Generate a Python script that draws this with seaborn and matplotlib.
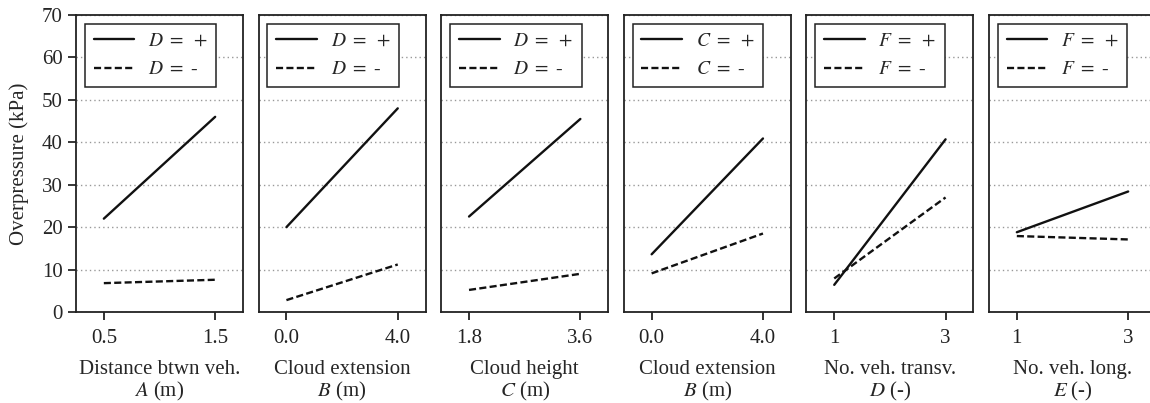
import matplotlib
matplotlib.use("Agg")
import matplotlib.pyplot as plt
import seaborn as sns
import pandas as pd

# Factor levels (x positions) for each panel
x_A = [0.5, 1.5]
x_B = [0.0, 4.0]
x_C = [1.8, 3.6]
x_D = [1, 3]
x_E = [1, 3]

# Mean overpressure (kPa) at the two levels of the interacting factor
A_Dplus = [22.0, 46.0]
A_Dminus = [6.8, 7.6]
B_Dplus = [20.0, 48.0]
B_Dminus = [2.8, 11.2]
C_Dplus = [22.5, 45.5]
C_Dminus = [5.2, 9.0]
B_Cplus = [13.6, 40.9]
B_Cminus = [9.1, 18.5]
D_Fplus = [6.4, 40.7]
D_Fminus = [7.9, 27.0]
E_Fplus = [18.8, 28.4]
E_Fminus = [17.9, 17.1]

tick_labels = [["0.5", "1.5"], ["0.0", "4.0"], ["1.8", "3.6"],
               ["0.0", "4.0"], ["1", "3"], ["1", "3"]]
xlabels = ["Distance btwn veh.\n$A$ (m)", "Cloud extension\n$B$ (m)",
           "Cloud height\n$C$ (m)", "Cloud extension\n$B$ (m)",
           "No. veh. transv.\n$D$ (-)", "No. veh. long.\n$E$ (-)"]
interacting = ["D", "D", "D", "C", "F", "F"]

panels = [
    (x_A, A_Dplus, A_Dminus),
    (x_B, B_Dplus, B_Dminus),
    (x_C, C_Dplus, C_Dminus),
    (x_B, B_Cplus, B_Cminus),
    (x_D, D_Fplus, D_Fminus),
    (x_E, E_Fplus, E_Fminus),
]

sns.set_style("ticks")
plt.rcParams["font.family"] = ["Liberation Serif", "DejaVu Serif"]
plt.rcParams["mathtext.fontset"] = "stix"
plt.rcParams["font.size"] = 15
plt.rcParams["axes.linewidth"] = 1.3
plt.rcParams["xtick.major.width"] = 1.3
plt.rcParams["ytick.major.width"] = 1.3
plt.rcParams["xtick.major.size"] = 6
plt.rcParams["ytick.major.size"] = 6
plt.rcParams["xtick.major.pad"] = 6
plt.rcParams["xtick.color"] = "#222222"
plt.rcParams["axes.edgecolor"] = "#222222"

W, H = 1150, 403
fig = plt.figure(figsize=(W / 100, H / 100), dpi=100)

left0, step, width = 76, 182.6, 167
top_px, bot_px = 15, 312

axes = []
for i, (xs, yp, ym) in enumerate(panels):
    l = (left0 + i * step) / W
    ax = fig.add_axes([l, (H - bot_px) / H, width / W, (bot_px - top_px) / H])
    axes.append(ax)
    f = interacting[i]
    lab_p = rf"${f}\ =\ +$"
    lab_m = rf"${f}\ =$ -"
    df = pd.DataFrame({
        "x": list(xs) + list(xs),
        "y": list(yp) + list(ym),
        "level": [lab_p] * 2 + [lab_m] * 2,
    })
    sns.lineplot(data=df, x="x", y="y", style="level",
                 dashes={lab_p: "", lab_m: (3, 1.4)},
                 color="#111111", linewidth=1.7, ax=ax)

    d = xs[1] - xs[0]
    ax.set_xlim(xs[0] - 0.25 * d, xs[1] + 0.25 * d)
    ax.set_ylim(0, 70)
    ax.set_xticks(xs)
    ax.set_xticklabels(tick_labels[i])
    ax.set_xlabel(xlabels[i], linespacing=1.05, labelpad=9)
    ax.set_yticks(range(0, 80, 10))
    ax.yaxis.grid(True, linestyle=(0, (1, 2.2)), color="#999999", linewidth=1.0)
    ax.set_axisbelow(True)
    for s in ax.spines.values():
        s.set_visible(True)
        s.set_linewidth(1.3)
    if i == 0:
        ax.set_ylabel("Overpressure (kPa)", labelpad=9)
    else:
        ax.set_ylabel("")
        ax.tick_params(axis="y", length=0, labelleft=False)
    leg = ax.legend(loc="upper left", fancybox=False, framealpha=1,
                    edgecolor="#222222", fontsize=14,
                    handlelength=2.1, handletextpad=0.7,
                    borderpad=0.45, labelspacing=0.55, borderaxespad=0.45,
                    title=None)
    leg.get_frame().set_linewidth(1.1)

fig.savefig("out.png", dpi=100)
